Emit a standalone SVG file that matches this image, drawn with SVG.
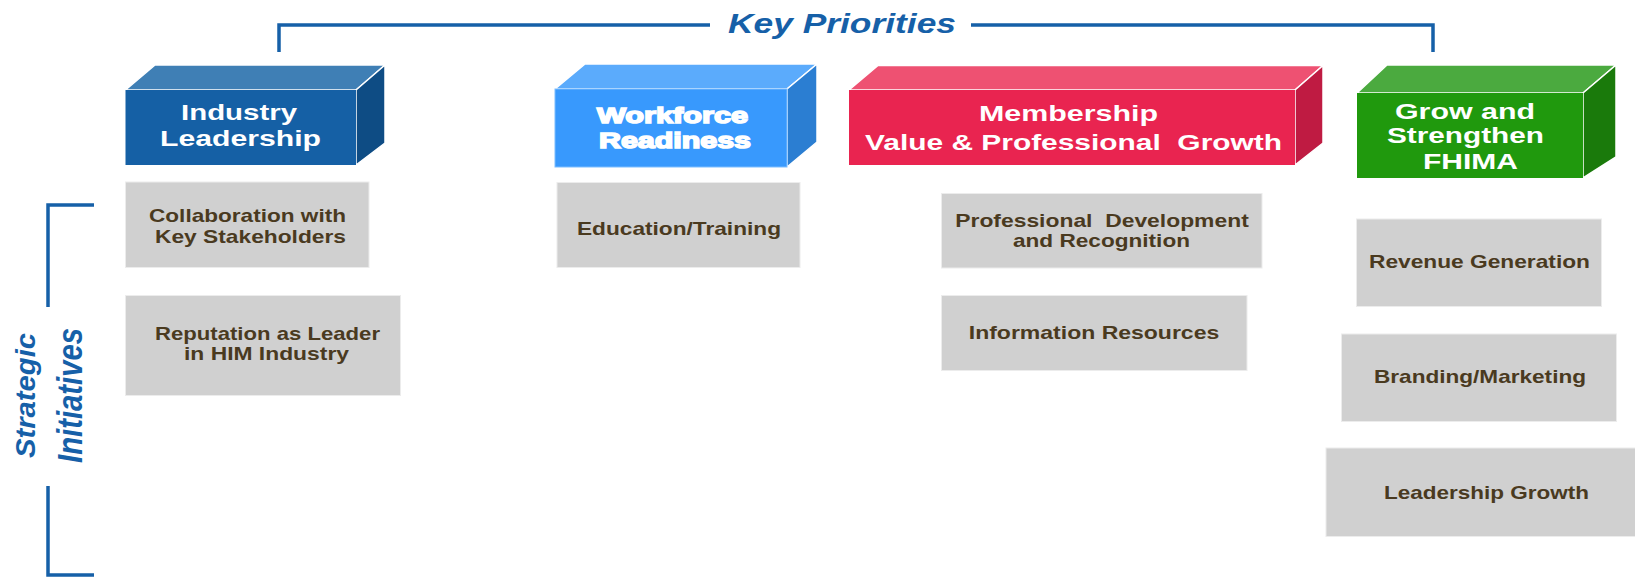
<svg xmlns="http://www.w3.org/2000/svg" width="1635" height="578" viewBox="0 0 1635 578">
  <style>
    .bracket { fill: none; stroke: #1660a8; stroke-width: 3.5; }
    .heading { font-family: "Liberation Sans", Arial, sans-serif; font-weight: bold; font-style: italic; fill: #1660a8; }
    .face { stroke: #ffffff; stroke-width: 1.5; stroke-linejoin: round; }
    .ptext { font-family: "Liberation Sans", Arial, sans-serif; font-weight: bold; font-size: 22.5px; fill: #ffffff; text-anchor: middle; }
    .tile { fill: #d0d0d0; stroke: #ececec; stroke-width: 1; }
    .itext { font-family: "Liberation Sans", Arial, sans-serif; font-weight: bold; font-size: 19px; fill: #4a3a1f; text-anchor: middle; }
  </style>

  <rect width="1635" height="578" fill="#ffffff"/>

  <!-- bracket lines for the two headings -->
  <g id="connectors">
    <path class="bracket" d="M279,52 V25 H710"/>
    <path class="bracket" d="M971,25 H1433 V52"/>
    <path class="bracket" d="M94,205 H48 V307"/>
    <path class="bracket" d="M48,486 V575 H94"/>
  </g>

  <g id="key-priorities-label">
    <text class="heading" x="842" y="33" font-size="28" text-anchor="middle" textLength="228" lengthAdjust="spacingAndGlyphs">Key Priorities</text>
  </g>

  <g id="strategic-initiatives-label">
    <text class="heading" transform="translate(35,395.5) rotate(-90)" font-size="28" text-anchor="middle" textLength="125" lengthAdjust="spacingAndGlyphs">Strategic</text>
    <text class="heading" transform="translate(81.5,395.5) rotate(-90)" font-size="35" text-anchor="middle" textLength="135" lengthAdjust="spacingAndGlyphs">Initiatives</text>
  </g>

  <!-- priority blocks -->
  <g id="industry-leadership">
    <polygon class="face" points="125.5,90 155,65 385,65 356,90" fill="#3f7fb5"/>
    <polygon class="face" points="356,90 385,65 385,143 356,165" fill="#0e4c84"/>
    <rect x="125.5" y="90" width="230.5" height="75" fill="#1560a5"/>
    <text class="ptext" x="239" y="120" textLength="116" lengthAdjust="spacingAndGlyphs">Industry</text>
    <text class="ptext" x="240.5" y="145.5" textLength="161" lengthAdjust="spacingAndGlyphs">Leadership</text>
  </g>

  <g id="workforce-readiness">
    <polygon class="face" points="555,89 585,64 817,64 787,89" fill="#5babfc" stroke="#8cc6ff"/>
    <polygon class="face" points="787,89 817,64 817,142 787,167" fill="#2b7ed2" stroke="#8cc6ff"/>
    <rect x="555" y="89" width="232" height="78" fill="#3899fd" stroke="#7dbdff" stroke-width="1"/>
    <text class="ptext" x="672.5" y="123" textLength="151" lengthAdjust="spacingAndGlyphs" stroke="#ffffff" stroke-width="1.6">Workforce</text>
    <text class="ptext" x="675" y="148" textLength="152" lengthAdjust="spacingAndGlyphs" stroke="#ffffff" stroke-width="1.6">Readiness</text>
  </g>

  <g id="membership-value">
    <polygon class="face" points="849,90 878,65.5 1323,65.5 1295,90" fill="#ee5172"/>
    <polygon class="face" points="1295,90 1323,65.5 1323,143 1295,165" fill="#bf1b42"/>
    <rect x="849" y="90" width="446" height="75" fill="#e92450"/>
    <text class="ptext" x="1068.5" y="121" textLength="179" lengthAdjust="spacingAndGlyphs">Membership</text>
    <text class="ptext" x="1073.5" y="150" textLength="417" lengthAdjust="spacingAndGlyphs" xml:space="preserve">Value &amp; Professional  Growth</text>
  </g>

  <g id="grow-strengthen-fhima">
    <polygon class="face" points="1357,93 1387,65 1616,65 1583,93" fill="#4baa3f"/>
    <polygon class="face" points="1583,93 1616,65 1616,157 1583,178" fill="#1a7a0b"/>
    <rect x="1357" y="93" width="226" height="85" fill="#20990d"/>
    <text class="ptext" x="1465" y="119" textLength="140" lengthAdjust="spacingAndGlyphs">Grow and</text>
    <text class="ptext" x="1465.5" y="143" textLength="157" lengthAdjust="spacingAndGlyphs">Strengthen</text>
    <text class="ptext" x="1470.5" y="169" textLength="95" lengthAdjust="spacingAndGlyphs">FHIMA</text>
  </g>

  <!-- initiative tiles -->
  <g id="collaboration">
    <rect class="tile" x="125.5" y="182" width="243.5" height="85.5"/>
    <text class="itext" x="247.5" y="221.7" textLength="197" lengthAdjust="spacingAndGlyphs">Collaboration with</text>
    <text class="itext" x="250.5" y="242.7" textLength="191" lengthAdjust="spacingAndGlyphs">Key Stakeholders</text>
  </g>

  <g id="reputation">
    <rect class="tile" x="125.5" y="295.5" width="275" height="100"/>
    <text class="itext" x="267.5" y="340" font-size="17.5" textLength="225" lengthAdjust="spacingAndGlyphs">Reputation as Leader</text>
    <text class="itext" x="266.5" y="360" font-size="17.5" textLength="165" lengthAdjust="spacingAndGlyphs">in HIM Industry</text>
  </g>

  <g id="education-training">
    <rect class="tile" x="557" y="182.5" width="243" height="85"/>
    <text class="itext" x="679" y="235" textLength="204" lengthAdjust="spacingAndGlyphs">Education/Training</text>
  </g>

  <g id="professional-development">
    <rect class="tile" x="941.5" y="193.5" width="320.5" height="74.5"/>
    <text class="itext" x="1102" y="226.7" textLength="293.5" lengthAdjust="spacingAndGlyphs" xml:space="preserve">Professional  Development</text>
    <text class="itext" x="1101.5" y="246.7" textLength="177" lengthAdjust="spacingAndGlyphs">and Recognition</text>
  </g>

  <g id="information-resources">
    <rect class="tile" x="941.5" y="295.5" width="305.5" height="75"/>
    <text class="itext" x="1094" y="339.3" textLength="250.5" lengthAdjust="spacingAndGlyphs">Information Resources</text>
  </g>

  <g id="revenue-generation">
    <rect class="tile" x="1356.5" y="219" width="245" height="87.5"/>
    <text class="itext" x="1479.5" y="268.3" textLength="221" lengthAdjust="spacingAndGlyphs">Revenue Generation</text>
  </g>

  <g id="branding-marketing">
    <rect class="tile" x="1341.5" y="334" width="275" height="87.5"/>
    <text class="itext" x="1480" y="383.3" textLength="212" lengthAdjust="spacingAndGlyphs">Branding/Marketing</text>
  </g>

  <g id="leadership-growth">
    <rect class="tile" x="1326" y="448" width="312" height="88.5"/>
    <text class="itext" x="1486.5" y="499" textLength="205" lengthAdjust="spacingAndGlyphs">Leadership Growth</text>
  </g>
</svg>
